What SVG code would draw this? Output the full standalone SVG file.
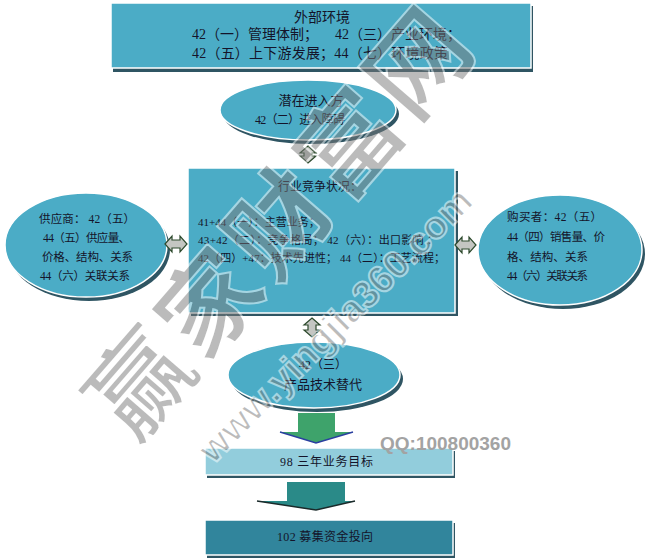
<svg xmlns="http://www.w3.org/2000/svg" width="645" height="560" viewBox="0 0 645 560">
<style>
.t{font-family:"Liberation Serif","Noto Sans CJK SC",serif;fill:#14142a}
.box{fill:#4BACC6;stroke:#ffffff;stroke-width:1.5}
.shd{fill:#2f5563}
.dbl{fill:#c4c6c2;stroke:#2d4a2d;stroke-width:1.2}
.wm{font-family:"Noto Sans CJK SC",sans-serif;font-weight:700;fill:#7a7a7a;stroke:#ffffff;stroke-width:2;opacity:0.5}
</style>
<rect width="645" height="560" fill="#ffffff"/>

<g id="external">
<rect class="shd" x="113" y="6" width="420" height="66"/>
<rect class="box" x="111" y="3" width="420" height="65"/>
<text class="t" x="322" y="22" font-size="14" text-anchor="middle">外部环境</text>
<text class="t" x="192" y="39" font-size="14">42（一）管理体制；</text>
<text class="t" x="335" y="39" font-size="14">42（三）产业环境；</text>
<text class="t" x="192" y="58" font-size="14" textLength="256" lengthAdjust="spacing">42（五）上下游发展；44（七）环境政策</text>
</g>

<g id="entrants">
<ellipse cx="311" cy="114" rx="88" ry="30" fill="#2f5563"/>
<ellipse class="box" cx="308" cy="110" rx="88" ry="30"/>
<text class="t" x="311" y="105" font-size="13" text-anchor="middle">潜在进入方</text>
<text class="t" x="255" y="124" font-size="12" textLength="90" lengthAdjust="spacing">42（二）进入障碍</text>
</g>

<g id="industry">
<rect class="shd" x="191" y="171" width="267" height="145"/>
<rect class="box" x="188" y="168" width="267" height="145"/>
<text class="t" x="320" y="191" font-size="12" text-anchor="middle">行业竞争状况：</text>
<text class="t" x="198" y="226" font-size="11">41+44（一）：主营业务；</text>
<text class="t" x="198" y="244" font-size="11" textLength="240" lengthAdjust="spacing">43+42（二）：竞争格局；  42（六）：出口影响 ：</text>
<text class="t" x="198" y="262" font-size="11" textLength="247" lengthAdjust="spacing">42（四）+47：技术先进性； 44（二）：工艺流程；</text>
</g>

<g id="suppliers">
<ellipse cx="89" cy="249" rx="81" ry="52" fill="#2f5563"/>
<ellipse class="box" cx="86" cy="245" rx="81" ry="52"/>
<text class="t" x="39" y="223" font-size="11.5" textLength="96" lengthAdjust="spacing">供应商：  42（五）</text>
<text class="t" x="43" y="242" font-size="11.5" textLength="87" lengthAdjust="spacing">44（五）供应量、</text>
<text class="t" x="42" y="261" font-size="11.5" textLength="91" lengthAdjust="spacing">价格、结构、关系</text>
<text class="t" x="40" y="280" font-size="11.5" textLength="90" lengthAdjust="spacing">44（六）关联关系</text>
</g>

<g id="buyers">
<ellipse cx="563" cy="254" rx="82" ry="55" fill="#2f5563"/>
<ellipse class="box" cx="560" cy="250" rx="82" ry="55"/>
<text class="t" x="507" y="221" font-size="11.5" textLength="95" lengthAdjust="spacing">购买者：42（五）</text>
<text class="t" x="507" y="241" font-size="11.5" textLength="98" lengthAdjust="spacing">44（四）销售量、价</text>
<text class="t" x="507" y="261" font-size="11.5" textLength="81" lengthAdjust="spacing">格、结构、关系</text>
<text class="t" x="507" y="280" font-size="11.5" textLength="81" lengthAdjust="spacing">44（六）关联关系</text>
</g>

<g id="substitutes">
<ellipse cx="317" cy="379" rx="86" ry="33" fill="#2f5563"/>
<ellipse class="box" cx="314" cy="375" rx="86" ry="33"/>
<text class="t" x="323" y="369" font-size="12" text-anchor="middle">42（三）</text>
<text class="t" x="323" y="389" font-size="13" text-anchor="middle">产品技术替代</text>
</g>

<g id="goals">
<rect class="shd" x="207" y="451" width="248" height="27"/>
<rect x="205" y="448" width="248" height="27" fill="#92CDDC" stroke="#ffffff" stroke-width="1.5"/>
<text class="t" x="280" y="466" font-size="12" textLength="93" lengthAdjust="spacing">98  三年业务目标</text>
</g>

<g id="funds">
<rect class="shd" x="207" y="523" width="248" height="35"/>
<rect x="205" y="520" width="248" height="35" fill="#31859C" stroke="#ffffff" stroke-width="1.5"/>
<text class="t" x="277" y="541" font-size="12" textLength="96" lengthAdjust="spacing">102  募集资金投向</text>
</g>

<g id="connectors">
<path class="dbl" d="M308,146 L316,153 L312,153 L312,156 L316,156 L308,163 L300,156 L304,156 L304,153 L300,153 Z"/>
<path class="dbl" d="M165,244 L172,236 L172,240 L180,240 L180,236 L187,244 L180,252 L180,248 L172,248 L172,252 Z"/>
<path class="dbl" d="M455,245 L462,237 L462,241 L469,241 L469,237 L476,245 L469,253 L469,249 L462,249 L462,253 Z"/>
<path class="dbl" d="M312,318 L320,325 L316,325 L316,330 L320,330 L312,337 L304,330 L308,330 L308,325 L304,325 Z"/>
<path d="M298,413 L335,413 L335,432 L353,432 L316,443 L280,432 L298,432 Z" fill="#3ea36b"/>
<path d="M280,432 L316,443 L353,432" fill="none" stroke="#2a3fa0" stroke-width="1.5"/>
<path d="M287,482 L345,482 L345,501 L355,501 L316,510 L257,501 L287,501 Z" fill="#2a8a88"/>
<path d="M257,501 L316,510 L355,501" fill="none" stroke="#1a2a2a" stroke-width="1.5"/>
</g>

<text x="380" y="450" font-family="Liberation Sans,sans-serif" font-weight="700" font-size="19" fill="#a3a3a3">QQ:100800360</text>
<text class="wm" transform="translate(282,222) rotate(-49)" x="0" y="35" font-size="100" text-anchor="middle" letter-spacing="6">赢家财富网</text>
<text class="wm" transform="translate(335,325) rotate(-45)" x="0" y="13" font-size="38" text-anchor="middle" style="font-family:'Liberation Sans',sans-serif">www.yingjia360.com</text>
</svg>
